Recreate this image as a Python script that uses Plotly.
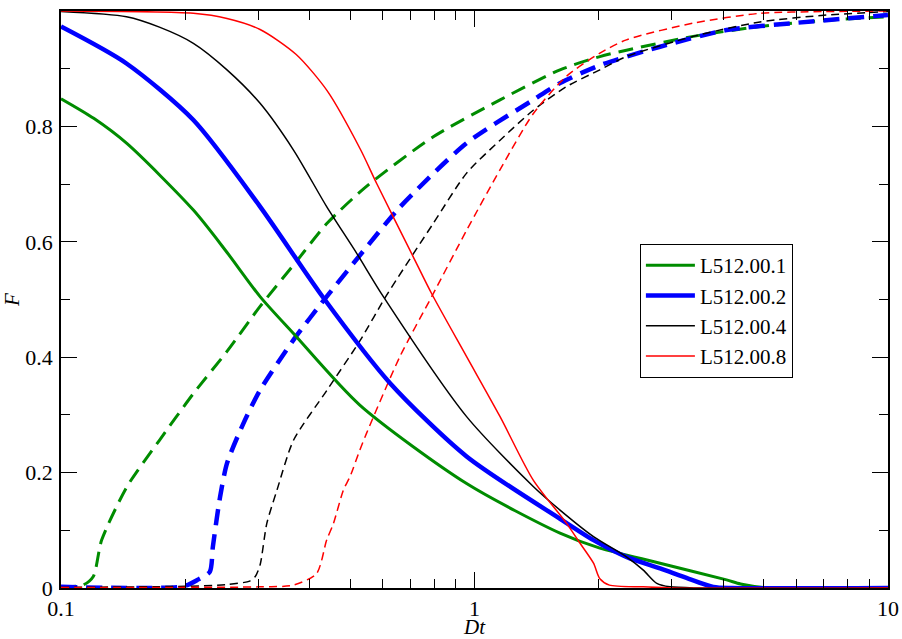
import plotly.graph_objects as go

# ---- data ----
names = ["L512.00.1", "L512.00.2", "L512.00.4", "L512.00.8"]
colors = ["#008c00", "#0000ff", "#000000", "#ff0000"]

# decreasing (solid) curves
g_sol_x = [0.1, 0.12, 0.1445, 0.209, 0.25, 0.303, 0.365, 0.528, 0.957, 1.61, 2.01, 2.81, 4.07, 4.4, 5.0, 6.0, 10.0]
g_sol_y = [0.848, 0.814, 0.770, 0.655, 0.585, 0.505, 0.441, 0.317, 0.181, 0.095, 0.069, 0.043, 0.014, 0.007, 0.001, 0.0, 0.0]

b_sol_x = [0.1, 0.144, 0.209, 0.303, 0.431, 0.625, 0.957, 1.61, 1.94, 2.33, 2.81, 3.3, 3.78, 4.2, 10.0]
b_sol_y = [0.973, 0.909, 0.811, 0.661, 0.503, 0.355, 0.228, 0.12, 0.083, 0.054, 0.034, 0.016, 0.002, 0.0, 0.0]

k_sol_x = [0.1, 0.144, 0.173, 0.209, 0.252, 0.303, 0.365, 0.439, 0.519, 0.602, 0.957, 1.387, 1.61, 1.94, 2.33, 2.56, 2.76, 2.97, 3.5, 10.0]
k_sol_y = [0.999, 0.99, 0.972, 0.944, 0.898, 0.84, 0.759, 0.661, 0.58, 0.505, 0.297, 0.176, 0.135, 0.089, 0.054, 0.031, 0.008, 0.002, 0.0, 0.0]

r_sol_x = [0.1, 0.209, 0.252, 0.303, 0.37, 0.44, 0.53, 0.58, 0.711, 0.788, 0.957, 1.153, 1.387, 1.67, 1.8, 1.94, 2.01, 2.12, 2.56, 3.0, 10.0]
r_sol_y = [1.0, 0.996, 0.987, 0.968, 0.925, 0.862, 0.76, 0.701, 0.574, 0.51, 0.401, 0.297, 0.187, 0.112, 0.0775, 0.043, 0.016, 0.005, 0.002, 0.0, 0.0]

# increasing (dashed) curves
g_dash_x = [0.1, 0.113, 0.1197, 0.1254, 0.1445, 0.173, 0.209, 0.252, 0.303, 0.37, 0.44, 0.548, 0.795, 1.153, 1.61, 2.01, 2.33, 3.38, 4.9, 7.1, 10.0]
g_dash_y = [0.002, 0.005, 0.02, 0.083, 0.176, 0.256, 0.337, 0.41, 0.488, 0.565, 0.632, 0.696, 0.782, 0.846, 0.898, 0.921, 0.932, 0.956, 0.973, 0.984, 0.99]

b_dash_x = [0.1, 0.198, 0.215, 0.229, 0.233, 0.2425, 0.252, 0.276, 0.303, 0.365, 0.439, 0.55, 0.66, 0.957, 1.387, 1.61, 2.01, 2.81, 4.07, 5.9, 10.0]
b_dash_y = [0.002, 0.003, 0.015, 0.028, 0.072, 0.158, 0.216, 0.285, 0.343, 0.43, 0.505, 0.592, 0.66, 0.771, 0.846, 0.875, 0.906, 0.938, 0.967, 0.979, 0.993]

k_dash_x = [0.1, 0.2, 0.252, 0.286, 0.295, 0.303, 0.3146, 0.333, 0.365, 0.44, 0.53, 0.61, 0.795, 0.957, 1.153, 1.387, 1.67, 2.01, 2.33, 3.38, 4.9, 7.1, 10.0]
k_dash_y = [0.001, 0.003, 0.006, 0.012, 0.02, 0.04, 0.112, 0.17, 0.256, 0.343, 0.43, 0.505, 0.632, 0.719, 0.776, 0.828, 0.869, 0.898, 0.921, 0.956, 0.981, 0.993, 0.999]

r_dash_x = [0.1, 0.3, 0.365, 0.415, 0.439, 0.456, 0.482, 0.5, 0.528, 0.548, 0.66, 0.788, 0.957, 1.153, 1.387, 1.67, 2.01, 2.33, 3.38, 4.9, 7.0, 10.0]
r_dash_y = [0.001, 0.002, 0.005, 0.025, 0.083, 0.112, 0.17, 0.193, 0.239, 0.268, 0.401, 0.505, 0.62, 0.725, 0.822, 0.887, 0.927, 0.95, 0.979, 0.996, 0.999, 1.0]

solid = [(g_sol_x, g_sol_y), (b_sol_x, b_sol_y), (k_sol_x, k_sol_y), (r_sol_x, r_sol_y)]
dashed = [(g_dash_x, g_dash_y), (b_dash_x, b_dash_y), (k_dash_x, k_dash_y), (r_dash_x, r_dash_y)]
widths = [3, 4.5, 1.5, 1.5]
dashes = ["15px,8px", "16px,9px", "8px,5px", "8px,5px"]

x_tickvals = [0.1, 1, 10]
x_ticktext = ["0.1", "1", "10"]
x_minor = [0.2, 0.3, 0.4, 0.5, 0.6, 0.7, 0.8, 0.9, 2, 3, 4, 5, 6, 7, 8, 9]
y_tickvals = [0, 0.2, 0.4, 0.6, 0.8, 1.0]
y_ticktext = ["0", "0.2", "0.4", "0.6", "0.8", "1"]
y_minor = [0.1, 0.3, 0.5, 0.7, 0.9]

FONT = "Liberation Serif, Tinos, 'Times New Roman', Times, 'DejaVu Serif', serif"

fig = go.Figure()
for i in range(4):
    dx, dy = dashed[i]
    fig.add_trace(go.Scatter(x=dx, y=dy, mode="lines", showlegend=False,
                             line=dict(color=colors[i], width=widths[i], dash=dashes[i],
                                       shape="spline", smoothing=0.7),
                             hoverinfo="skip"))
for i in range(4):
    sx, sy = solid[i]
    fig.add_trace(go.Scatter(x=sx, y=sy, mode="lines", name=names[i],
                             line=dict(color=colors[i], width=widths[i],
                                       shape="spline", smoothing=0.75),
                             hoverinfo="skip", legendrank=i + 1))

axis_common = dict(showline=True, linecolor="black", linewidth=1.5, mirror="allticks",
                   ticks="inside", ticklen=16, tickwidth=1.2, tickcolor="black",
                   showgrid=False, zeroline=False, automargin=False,
                   tickfont=dict(family=FONT, size=22, color="black"))

fig.update_xaxes(type="log", range=[-1, 1], tickmode="array", tickvals=x_tickvals,
                 ticktext=x_ticktext, ticklabelstandoff=0,
                 minor=dict(tickmode="array", tickvals=x_minor, ticks="inside", ticklen=9,
                            tickwidth=1.2, tickcolor="black", showgrid=False),
                 title=dict(text="<i>Dt</i>", font=dict(family=FONT, size=21, color="black"),
                            standoff=8),
                 **axis_common)
fig.update_yaxes(range=[0, 1], tickmode="array", tickvals=y_tickvals, ticktext=y_ticktext,
                 ticklabelstandoff=2,
                 minor=dict(tickmode="array", tickvals=y_minor, ticks="inside", ticklen=9,
                            tickwidth=1.2, tickcolor="black", showgrid=False),
                 title=dict(text="<i>F</i>", font=dict(family=FONT, size=21, color="black"),
                            standoff=6),
                 **axis_common)

fig.update_layout(
    width=902, height=639,
    margin=dict(l=61, r=14, t=11, b=51),
    paper_bgcolor="white", plot_bgcolor="white",
    font=dict(family=FONT, color="black"),
    legend=dict(x=0.700, y=0.48, xanchor="left", yanchor="middle",
                bordercolor="black", borderwidth=1, bgcolor="white",
                font=dict(family=FONT, size=21, color="black"),
                tracegroupgap=0, itemwidth=49),
)

fig.write_html("out.html", config={"displayModeBar": False},
               post_script="document.body.style.margin='0';document.body.style.padding='0';")
